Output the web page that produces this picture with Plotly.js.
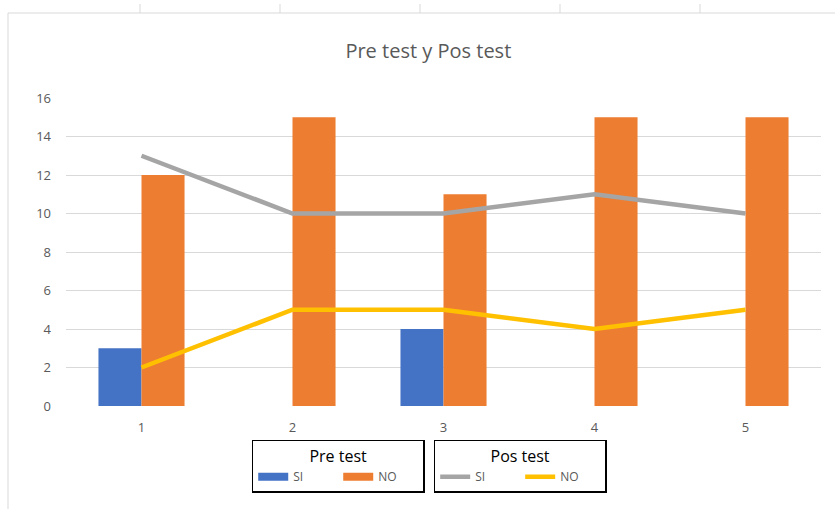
<!DOCTYPE html>
<html><head><meta charset="utf-8">
<script src="https://cdn.plot.ly/plotly-3.0.1.min.js"></script>
<style>html,body{margin:0;padding:0;background:#fff;}#chart{width:835px;height:509px;}</style>
</head><body><div id="chart"></div>
<script>
const categories = ['1','2','3','4','5'];
const preSI = [3, 0, 4, 0, 0];
const preNO = [12, 15, 11, 15, 15];
const posSI = [13, 10, 10, 11, 10];
const posNO = [2, 5, 5, 4, 5];
const yTicks = [0,2,4,6,8,10,12,14,16];

const cBlue = '#4472C4', cOrange = '#ED7D31', cGray = '#A5A5A5', cYellow = '#FFC000';

const traces = [
  {type:'bar', x:categories, y:preSI, name:'SI', marker:{color:cBlue}, showlegend:false, hoverinfo:'y'},
  {type:'bar', x:categories, y:preNO, name:'NO', marker:{color:cOrange}, showlegend:false, hoverinfo:'y'},
  {type:'scatter', mode:'lines', x:categories, y:posSI, name:'SI', line:{color:cGray, width:4.5}, showlegend:false},
  {type:'scatter', mode:'lines', x:categories, y:posNO, name:'NO', line:{color:cYellow, width:4.5}, showlegend:false},
  // legend-only entries
  {type:'scatter', mode:'lines', x:[null], y:[null], name:'SI', line:{color:cBlue, width:8}, legend:'legend'},
  {type:'scatter', mode:'lines', x:[null], y:[null], name:'NO', line:{color:cOrange, width:8}, legend:'legend'},
  {type:'scatter', mode:'lines', x:[null], y:[null], name:'SI', line:{color:cGray, width:4.5}, legend:'legend2'},
  {type:'scatter', mode:'lines', x:[null], y:[null], name:'NO', line:{color:cYellow, width:4.5}, legend:'legend2'}
];

const legendBase = {
  orientation:'h', yanchor:'top', xanchor:'left', y:-0.11,
  bordercolor:'#000', borderwidth:1.5, bgcolor:'rgba(0,0,0,0)',
  font:{family:'Open Sans, sans-serif', size:12, color:'#595959'},
  tracegroupgap:0, entrywidth:40
};

const layout = {
  width:835, height:509,
  margin:{l:66, r:14, t:98, b:103},
  paper_bgcolor:'#fff', plot_bgcolor:'#fff',
  font:{family:'Open Sans, sans-serif', color:'#595959'},
  title:{text:'Pre test y Pos test', x:0.513, xref:'container', y:0.9, yref:'container', yanchor:'middle', xanchor:'center',
         font:{family:'Open Sans, sans-serif', size:20, color:'#595959'}},
  barmode:'group', bargap:0.43, bargroupgap:0,
  xaxis:{type:'category', showgrid:false, zeroline:false, showline:false, ticks:'',
         tickfont:{size:13, color:'#595959'}, ticklabelstandoff:12, fixedrange:true},
  yaxis:{range:[0,16], tickvals:yTicks, showgrid:true, gridcolor:'#d9d9d9', gridwidth:1,
         zeroline:false, showline:false, ticks:'', tickfont:{size:13, color:'#595959'}, ticklabelstandoff:14},
  showlegend:true,
  legend:Object.assign({}, legendBase, {x:0.246, title:{text:'Pre test', side:'top center', font:{size:16, color:'#000'}}}),
  legend2:Object.assign({}, legendBase, {x:0.487, title:{text:'Pos test', side:'top center', font:{size:16, color:'#000'}}}),
  shapes:[
    {type:'rect', xref:'paper', yref:'paper', x0:(8-66)/755, x1:(840-66)/755, y0:(406-520)/308, y1:(406-13)/308,
     line:{color:'#d9d9d9', width:1}, fillcolor:'rgba(0,0,0,0)', layer:'below'}
  ]
};
[140,280,420,560,700].forEach(px=>{
  layout.shapes.push({type:'line', xref:'paper', yref:'paper', x0:(px-66)/755, x1:(px-66)/755,
    y0:(406-13)/308, y1:(406-4)/308, line:{color:'#d9d9d9', width:1}});
});

Plotly.newPlot('chart', traces, layout, {displayModeBar:false, staticPlot:true});
</script></body></html>
